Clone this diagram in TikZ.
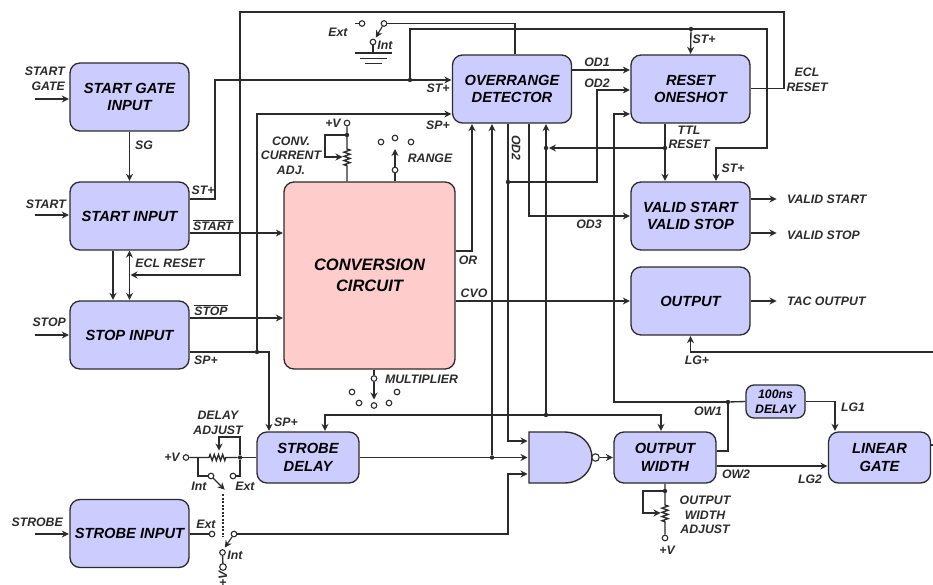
\documentclass[tikz,border=0pt]{standalone}
\usepackage{fontspec}
\usepackage{xcolor}
\setmainfont{Liberation Sans}
\usetikzlibrary{arrows.meta}
\usetikzlibrary{decorations.pathmorphing}
\definecolor{myline}{HTML}{2B2B2B}
\definecolor{myblock}{HTML}{CCCCFF}
\definecolor{myconv}{HTML}{FFCCCC}
\newcommand{\ovl}[1]{$\overline{\hbox{#1}}$}
\tikzset{
  blockbox/.style={draw=myline, fill=myblock, rounded corners=10pt, line width=1.3pt, inner sep=0pt, align=center,
    font=\fontsize{14.7}{17.5}\selectfont\bfseries\itshape},
  bigblock/.style={blockbox, minimum width=119pt, minimum height=68pt},
  smallblock/.style={blockbox, minimum width=102pt, minimum height=51pt},
  wire/.style={draw=myline, line width=1.35pt},
  sig/.style={wire, shorten >=0.5pt, -{Stealth[length=7pt,width=7pt]}},
  term/.style={circle, draw=myline, fill=white, line width=1.1pt, minimum size=5.6pt, inner sep=0pt},
  jdot/.style={circle, fill=myline, minimum size=4.4pt, inner sep=0pt},
  lbl/.style={text=myline, align=center, inner sep=0pt, font=\fontsize{12.3}{14.5}\selectfont\bfseries\itshape},
  zig/.style={decoration={zigzag, segment length=4.2pt, amplitude=3pt}}
}
\begin{document}
\begin{tikzpicture}[x=1pt, y=-1pt]
    \useasboundingbox (0,0) rectangle (933,585);

    % blocks
    \node[bigblock] (startgate) at (129.5,97) {START GATE\\INPUT};
    \node[bigblock] (startinput) at (129.5,216) {START INPUT};
    \node[bigblock] (stopinput) at (129.5,335) {STOP INPUT};
    \node[bigblock] (strobeinput) at (129.5,533.5) {STROBE INPUT};
    \node[bigblock] (overrange) at (512,89) {OVERRANGE\\DETECTOR};
    \node[bigblock] (resetos) at (690.5,89) {RESET\\ONESHOT};
    \node[bigblock] (validss) at (690.5,216) {VALID START\\VALID STOP};
    \node[bigblock] (output) at (690.5,301) {OUTPUT};
    \node[blockbox, fill=myconv, minimum width=171pt, minimum height=187pt, font=\fontsize{16.5}{20.5}\selectfont\bfseries\itshape]
      (conv) at (369.5,275.5) {CONVERSION\\CIRCUIT};
    \node[smallblock] (strobedelay) at (308,457.5) {STROBE\\DELAY};
    \node[smallblock] (outwidth) at (665,457.5) {OUTPUT\\WIDTH};
    \node[smallblock] (lineargate) at (879.5,457.5) {LINEAR\\GATE};
    \node[blockbox, minimum width=59pt, minimum height=33pt, rounded corners=8pt, font=\fontsize{12.3}{14.5}\selectfont\bfseries\itshape]
      (delayos) at (775.5,401.5) {100ns\\DELAY};

    % nand gate
    \draw[wire, fill=myblock] (529,432) -- (564,432) .. controls (581,432) and (592,444) .. (592,457.5)
      .. controls (592,471) and (581,483) .. (564,483) -- (529,483) -- cycle;
    \node[term, minimum size=7.4pt] (bubble) at (595.5,457.5) {};
    \coordinate (nanda) at (528,441);
    \coordinate (nandb) at (528,457.5);
    \coordinate (nandc) at (528,474);

    % free ends
    \coordinate (ingate) at (35,99);
    \coordinate (instart) at (35,215);
    \coordinate (instop) at (35,335);
    \coordinate (instrobe) at (35,534);
    \coordinate (lgplus) at (933,352);
    \coordinate (lgout) at (933,445);
    \coordinate (eclin) at (130,275);
    \coordinate (outva) at (777,199);
    \coordinate (outvb) at (777,233);
    \coordinate (outtac) at (777,301);

    % junctions
    \node[jdot] (dst) at (410,80) {};
    \node[jdot] (dstb) at (691,29) {};
    \node[jdot] (dsp) at (257,352) {};
    \node[jdot] (dttl) at (665,148) {};
    \node[jdot] (dover) at (546,148) {};
    \node[jdot] (dod) at (508,182) {};
    \node[jdot] (dnand) at (492,457.5) {};
    \node[jdot] (dwidth) at (546,415) {};
    \node[jdot] (dow) at (728,402) {};
    \node[jdot] (dadj) at (240,457.5) {};
    \node[jdot] (dcur) at (347,135) {};
    \node[jdot] (dwadj) at (665,491) {};

    % inputs on the left
    \draw[sig] (ingate) -- (ingate -| startgate.west);
    \draw[sig] (instart) -- (instart -| startinput.west);
    \draw[sig] (instop) -- (stopinput.west);
    \draw[sig] (instrobe) -- (instrobe -| strobeinput.west);
    \draw[sig] (startgate) -- (startinput);
    \draw[sig] ([xshift=-16.5pt]startinput.south) -- ([xshift=-16.5pt]stopinput.north);
    \draw[sig, {Stealth[length=7pt,width=7pt]}-{Stealth[length=7pt,width=7pt]}] (startinput.south) -- (stopinput.north);

    % start and stop lines
    \draw[sig] ([yshift=17pt]startinput.east) -- (215,199) |- ([yshift=9pt]overrange.west);
    \draw[sig] (dst) |- (767,29) |- (716,148) -- ([xshift=25.5pt]validss.north);
    \draw[sig] (dstb) -- (resetos.north);
    \draw[sig] ([yshift=-17pt]startinput.east) -- ([yshift=42.5pt]conv.west);
    \draw[sig] ([yshift=17pt]stopinput.east) -- ([yshift=-42.5pt]conv.west);
    \draw[sig] ([yshift=-17pt]stopinput.east) -- (269,352) -- ([xshift=-39pt]strobedelay.north);
    \draw[sig] (dsp) |- ([yshift=-25pt]overrange.west);
    \draw[sig] ([yshift=0.5pt]resetos.east) -- (784,88.5) |- (240,12) |- (eclin);

    % conversion circuit outputs
    \draw[sig] ([yshift=24.5pt]conv.east) -| ([xshift=-40pt]overrange.south);
    \draw[sig] ([yshift=-25.5pt]conv.east) -- (output.west);

    % overrange and reset
    \draw[sig] ([yshift=19pt]overrange.east) -- ([yshift=19pt]resetos.west);
    \draw[sig] ([xshift=-4pt]overrange.south) |- (nanda);
    \draw[sig] (dod) -- (597,182) |- ([yshift=-1pt]resetos.west);
    \draw[sig] ([xshift=17pt]overrange.south) |- (validss.west);
    \draw[sig] ([xshift=-25.5pt]resetos.south) -- ([xshift=-25.5pt]validss.north);
    \draw[sig] (dttl) -- (dover);
    \draw[sig] (dnand) -- ([xshift=-20pt]overrange.south);
    \draw[sig] (dwidth) -- ([xshift=34pt]overrange.south);
    \draw[sig] (dwidth) -| ([xshift=17pt]strobedelay.north);
    \draw[sig] (dwidth) -| ([xshift=-4pt]outwidth.north);

    % outputs on the right
    \draw[sig] ([yshift=17pt]validss.east) -- (outva);
    \draw[sig] ([yshift=-17pt]validss.east) -- (outvb);
    \draw[sig] (output.east) -- (outtac);
    \draw[sig] (lgplus) -| (output.south);
    \draw[wire] ([yshift=12.5pt]lineargate.east) -- (lgout);

    % output width and linear gate
    \draw[sig] (strobedelay.east) -- (nandb);
    \draw[sig] (bubble) -- (outwidth.west);
    \draw[wire] ([yshift=6.5pt]outwidth.east) -| (dow);
    \draw[wire] (dow) -- (delayos.west);
    \draw[sig] (dow) -- (614,402) |- ([yshift=-25pt]resetos.west);
    \draw[sig] (delayos.east) -| ([xshift=-44.5pt]lineargate.north);
    \draw[sig] ([yshift=-8.5pt]outwidth.east) -- ([yshift=-8.5pt]lineargate.west);

    % ext / int switch at the top
    \coordinate (extstub) at (355,23.5);
    \coordinate (swtopend) at (375.5,38);
    \node[term] (swtopext) at (362,23.5) {};
    \node[term] (swtop) at (384,23.5) {};
    \node[term] (swtopint) at (373,42) {};
    \draw[wire] (extstub) -- (swtopext);
    \draw[wire] (swtop) -| ([xshift=3pt]overrange.north);
    \draw[sig, line width=1.1pt] (swtop) -- (swtopend);
    \draw[wire] (swtopint) -- (373,53);
    \draw[wire] (355,53) -- (392,53);
    \draw[wire] (360,58.5) -- (387,58.5);
    \draw[wire] (365,63.5) -- (382,63.5);

    % conv current adjust
    \node[term] (vcur) at (347,123) {};
    \coordinate (rescur) at (343,157);
    \draw[wire, zig] (vcur) -- (347,149) decorate {-- (347,166)} -- ([xshift=-22.5pt]conv.north);
    \draw[sig] (dcur) -- (325,135) |- (rescur);

    % range selector
    \node[term] (rga) at (381,142) {};
    \node[term] (rgb) at (395,138) {};
    \node[term] (rgc) at (411,142) {};
    \node[term] (rgpin) at (395,170) {};
    \coordinate (rgend) at (395,148.5);
    \draw[wire] ([xshift=25.5pt]conv.north) -- (rgpin);
    \draw[sig] (rgpin) -- (rgend);

    % multiplier selector
    \node[term] (mlpin) at (374,378.5) {};
    \node[term] (mla) at (352,392) {};
    \node[term] (mlb) at (359,403) {};
    \node[term] (mlc) at (374,405.5) {};
    \node[term] (mld) at (389,403) {};
    \node[term] (mle) at (397,392) {};
    \coordinate (mlend) at (374,400);
    \draw[wire] ([xshift=4.5pt]conv.south) -- (mlpin);
    \draw[sig] (mlpin) -- (mlend);

    % delay adjust
    \node[term] (vdelay) at (186,457.5) {};
    \node[term] (swdint) at (211,476) {};
    \node[term] (swdext) at (233,476) {};
    \coordinate (swdend) at (225,490);
    \coordinate (resdelay) at (219,451);
    \draw[wire, zig] (vdelay) -- (209,457.5) decorate {-- (227,457.5)} -- (dadj);
    \draw[wire] (dadj) -- (strobedelay.west);
    \draw[wire] (198,457.5) |- (swdint);
    \draw[wire] (swdext) -| (dadj);
    \draw[sig, line width=1.1pt] (swdint) -- (swdend);
    \draw[sig] (dadj) |- (219,437) -- (resdelay);

    % strobe switch
    \coordinate (gangtop) at (223,494);
    \coordinate (gangbot) at (223,537);
    \coordinate (swsend) at (224.5,548);
    \node[term] (swsext) at (212,534) {};
    \node[term] (sws) at (234,534) {};
    \node[term] (swsint) at (222.5,552.5) {};
    \node[term, minimum size=6.6pt] (vstrobe) at (223,567) {};
    \draw[wire] (strobeinput.east |- swsext) -- (swsext);
    \draw[sig] (sws) -- (508,534) |- (nandc);
    \draw[sig, line width=1.1pt] (sws) -- (swsend);
    \draw[wire] (swsint) -- (vstrobe);
    \draw[wire, line width=1.1pt, dash pattern=on 2pt off 1.5pt] (gangtop) -- (gangbot);

    % output width adjust
    \node[term] (vwidth) at (665,538) {};
    \coordinate (reswidth) at (661,513);
    \draw[wire, zig] (outwidth.south) -- (665,505) decorate {-- (665,523)} -- (vwidth);
    \draw[sig] (dwadj) -- (643,491) |- (reswidth);

    % labels
    \node[lbl, align=right, anchor=east] (lgate) at (65,79) {START\\GATE};
    \node[lbl, anchor=east] (lstart) at (66,204) {START};
    \node[lbl, anchor=east] (lstop) at (66,322) {STOP};
    \node[lbl, anchor=east] (lstrobe) at (63,522) {STROBE};
    \node[lbl] (lsg) at (144,145) {SG};
    \node[lbl] (lsta) at (203,190) {ST+};
    \node[lbl] (lstbar) at (213,225) {\ovl{START}};
    \node[lbl] (lecl) at (170,263) {ECL RESET};
    \node[lbl] (lspbar) at (211,310) {\ovl{STOP}};
    \node[lbl] (lspa) at (206,360) {SP+};
    \node[lbl] (lstb) at (438,88) {ST+};
    \node[lbl] (lspb) at (438,125) {SP+};
    \node[lbl] (lext) at (338,32) {Ext};
    \node[lbl] (lint) at (385,45) {Int};
    \node[lbl] (lvcur) at (333,123) {+V};
    \node[lbl] (lconv) at (291,155.5) {CONV.\\CURRENT\\ADJ.};
    \node[lbl] (lrange) at (430,158) {RANGE};
    \node[lbl] (lor) at (468,260) {OR};
    \node[lbl] (lcvo) at (474,293) {CVO};
    \node[lbl] (lmult) at (421.5,379) {MULTIPLIER};
    \node[lbl] (lodone) at (597,62) {OD1};
    \node[lbl] (lodtwo) at (597,83) {OD2};
    \node[lbl, rotate=-90] (lodrot) at (516,148) {OD2};
    \node[lbl] (lodthr) at (589,224) {OD3};
    \node[lbl] (lstc) at (704,39) {ST+};
    \node[lbl] (lttl) at (689,137.5) {TTL\\RESET};
    \node[lbl] (lstd) at (733,168) {ST+};
    \node[lbl, align=center] (lecr) at (807,80) {ECL\\RESET};
    \node[lbl, anchor=west] (lva) at (787,199) {VALID START};
    \node[lbl, anchor=west] (lvb) at (787,235) {VALID STOP};
    \node[lbl, anchor=west] (ltac) at (787,301) {TAC OUTPUT};
    \node[lbl] (llgp) at (697,360) {LG+};
    \node[lbl] (lowa) at (708,411) {OW1};
    \node[lbl] (lowb) at (736,474) {OW2};
    \node[lbl] (llga) at (853,407) {LG1};
    \node[lbl] (llgb) at (810,479) {LG2};
    \node[lbl] (lwadj) at (705,515) {OUTPUT\\WIDTH\\ADJUST};
    \node[lbl] (lvwidth) at (667,550) {+V};
    \node[lbl] (ldadj) at (218,423) {DELAY\\ADJUST};
    \node[lbl] (lspc) at (286,422) {SP+};
    \node[lbl] (lvdel) at (172,457) {+V};
    \node[lbl] (lintd) at (199,486) {Int};
    \node[lbl] (lextd) at (245,486) {Ext};
    \node[lbl] (lexts) at (206,524) {Ext};
    \node[lbl] (lints) at (235,555) {Int};
    \node[lbl, rotate=90] (lvs) at (223,579) {+V};
\end{tikzpicture}
\end{document}
